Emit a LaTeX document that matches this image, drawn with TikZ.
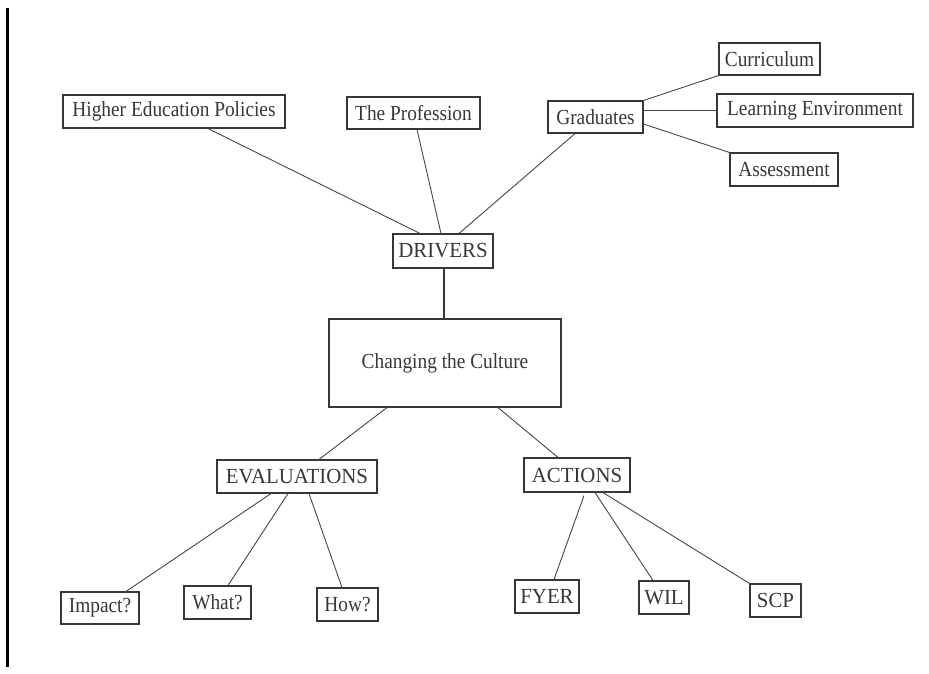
\documentclass[tikz,border=0pt]{standalone}
\usepackage{fontspec}
\newfontfamily\boxfont{Liberation Serif}[FakeStretch=0.9]
\newfontfamily\capsboxfont{Liberation Serif}[FakeStretch=0.97]
\usetikzlibrary{calc}
\definecolor{ink}{RGB}{55,55,55}
\definecolor{wire}{RGB}{70,70,70}
\begin{document}
\begin{tikzpicture}[x=1pt,y=-1pt,
  box/.style={draw=ink,line width=1.1pt,rectangle,inner sep=0pt,
    text=ink,font=\boxfont\fontsize{21.5}{24}\selectfont},
  capsbox/.style={box,font=\capsboxfont\fontsize{21.5}{24}\selectfont},
  link/.style={draw=wire,line width=0.9pt},
  trunk/.style={draw=ink,line width=2pt}]
\useasboundingbox (0,0) rectangle (929,673);
% margin rule on the left
\draw[line width=2.2pt,black] (7.5,8) -- (7.5,667);

% top tier: the drivers
\node[box,minimum width=222pt,minimum height=33pt] (hep) at (174,111.5) {Higher Education Policies};
\node[box,minimum width=133pt,minimum height=32pt] (prof) at (413.5,113) {The Profession};
\node[box,minimum width=95pt,minimum height=32pt] (grad) at (595.5,117) {Graduates};
\node[box,minimum width=101pt,minimum height=32pt] (curr) at (769.5,59) {Curriculum};
\node[box,minimum width=196pt,minimum height=33pt] (lenv) at (815,110.5) {Learning Environment};
\node[box,minimum width=108pt,minimum height=33pt] (assess) at (784,169.5) {Assessment};

% centre
\node[capsbox,minimum width=100pt,minimum height=34pt] (drv) at (443,251) {DRIVERS};
\node[box,minimum width=232pt,minimum height=88pt] (cult) at (445,363) {Changing the Culture};

% lower tier
\node[capsbox,minimum width=160pt,minimum height=33pt] (eval) at (297,476.5) {EVALUATIONS};
\node[capsbox,minimum width=106pt,minimum height=34pt] (act) at (577,475) {ACTIONS};
\node[box,minimum width=78pt,minimum height=32pt] (impact) at (100,608) {Impact?};
\node[box,minimum width=67pt,minimum height=33pt] (what) at (217.5,602.5) {What?};
\node[box,minimum width=61pt,minimum height=33pt] (how) at (347.5,604.5) {How?};
\node[capsbox,minimum width=64pt,minimum height=33pt] (fyer) at (547,596.5) {FYER};
\node[capsbox,minimum width=50pt,minimum height=33pt] (wil) at (664,597.5) {WIL};
\node[capsbox,minimum width=51pt,minimum height=33pt] (scp) at (775.5,600.5) {SCP};

% connectors to DRIVERS
\draw[link] ([xshift=34pt]hep.south) -- ([xshift=-23pt]drv.north);
\draw[link] ([xshift=3.5pt]prof.south) -- ([xshift=-2pt]drv.north);
\draw[link] ([xshift=-20.5pt]grad.south) -- ([xshift=16pt]drv.north);

% Graduates branches
\draw[link] (grad.north east) -- (curr.south west);
\draw[link] (grad.east |- lenv.west) -- (lenv.west);
\draw[link] ([yshift=-7pt]grad.east) -- (assess.north west);

% trunk
\draw[trunk] ([xshift=1pt]drv.south) -- ([xshift=1pt]drv.south |- cult.north);

% Culture to the two lower hubs
\draw[link] ([xshift=-58pt]cult.south) -- ([xshift=22pt]eval.north);
\draw[link] ([xshift=53pt]cult.south) -- ([xshift=-19pt]act.north);

% EVALUATIONS branches
\draw[link] ([xshift=-26pt]eval.south) -- ([xshift=26pt]impact.north);
\draw[link] ([xshift=-9pt]eval.south) -- ([xshift=10.5pt]what.north);
\draw[link] ([xshift=12pt]eval.south) -- ([xshift=-5.5pt]how.north);

% ACTIONS branches
\draw[link] ([xshift=7pt,yshift=-3pt]act.south) -- ([xshift=7pt]fyer.north);
\draw[link] ([xshift=18pt]act.south) -- ([xshift=-11pt]wil.north);
\draw[link] ([xshift=26pt]act.south) -- (scp.north west);
\end{tikzpicture}
\end{document}
